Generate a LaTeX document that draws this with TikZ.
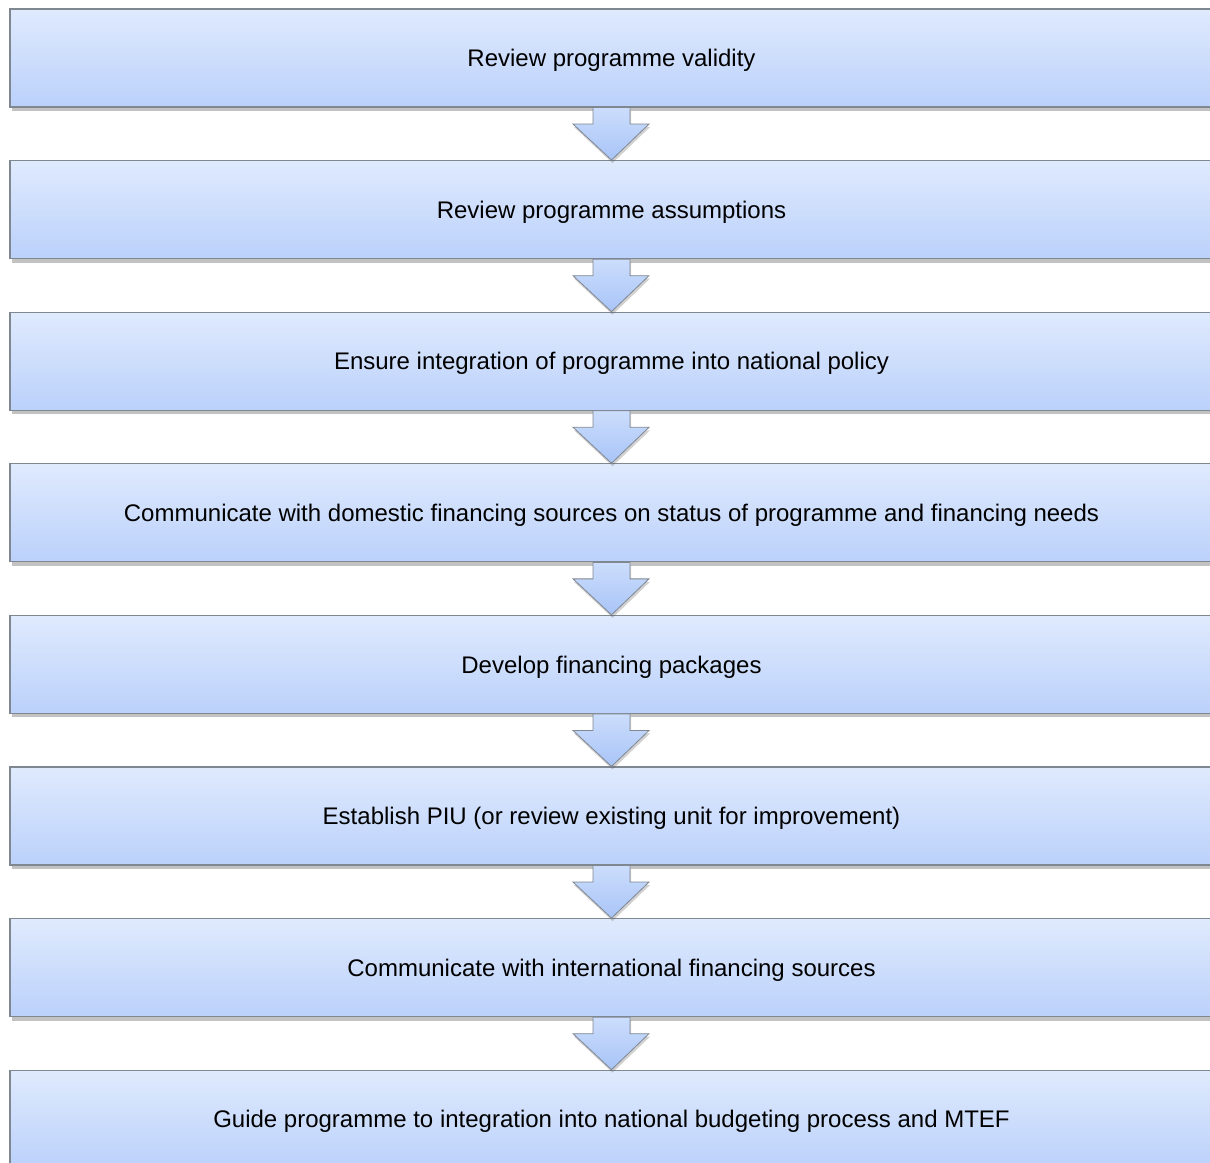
\documentclass[tikz,border=0pt]{standalone}
\usepackage{fontspec}
\setmainfont{Liberation Sans}
\usetikzlibrary{calc,shadows}
\definecolor{boxtop}{HTML}{DFEAFD}
\definecolor{boxbot}{HTML}{BBD1FB}
\definecolor{boxline}{HTML}{7F8791}
\definecolor{arrtop}{HTML}{CCDDFC}
\definecolor{arrbot}{HTML}{A8C4F7}
\tikzset{
  stepbox/.style={draw=boxline, line width=1.1pt, top color=boxtop, bottom color=boxbot,
    minimum width=1203pt, minimum height=98pt, inner sep=0pt,
    text height=17.2pt, text depth=0pt,
    font=\fontsize{24}{28}\selectfont, text=black,
    drop shadow={shadow xshift=2pt, shadow yshift=-4pt, opacity=0.4, fill=black!60}},
  blockarrow/.style={draw=boxline, line width=0.8pt, top color=arrtop, bottom color=arrbot,
    line join=miter,
    drop shadow={shadow xshift=1pt, shadow yshift=-3pt, opacity=0.3, fill=black!60}}
}
\begin{document}
\begin{tikzpicture}[x=1pt,y=-1pt]
\useasboundingbox (0,0) rectangle (1210,1162);
\clip (0,0) rectangle (1210,1162);
\def\dy{151.6}
% block arrows between consecutive boxes (drawn behind the boxes)
\node[stepbox] (b1) at (611.5,9+49+0*\dy) {Review programme validity};
\node[stepbox] (b2) at (611.5,9+49+1*\dy) {Review programme assumptions};
\node[stepbox] (b3) at (611.5,9+49+2*\dy) {Ensure integration of programme into national policy};
\node[stepbox] (b4) at (611.5,9+49+3*\dy) {Communicate with domestic financing sources on status of programme and financing needs};
\node[stepbox] (b5) at (611.5,9+49+4*\dy) {Develop financing packages};
\node[stepbox] (b6) at (611.5,9+49+5*\dy) {Establish PIU (or review existing unit for improvement)};
\node[stepbox] (b7) at (611.5,9+49+6*\dy) {Communicate with international financing sources};
\node[stepbox] (b8) at (611.5,9+49+7*\dy) {Guide programme to integration into national budgeting process and MTEF};
\foreach \a/\b in {b1/b2,b2/b3,b3/b4,b4/b5,b5/b6,b6/b7,b7/b8}{
  \path[blockarrow]
     ($(\a.south)+(-18.5,0)$) -- ($(\a.south)+(18.5,0)$) -- ($(\a.south)+(18.5,16.5)$)
     -- ($(\a.south)+(37.5,16.5)$) -- (\b.north) -- ($(\a.south)+(-38.5,16.5)$)
     -- ($(\a.south)+(-18.5,16.5)$) -- cycle;
}
\end{tikzpicture}
\end{document}
